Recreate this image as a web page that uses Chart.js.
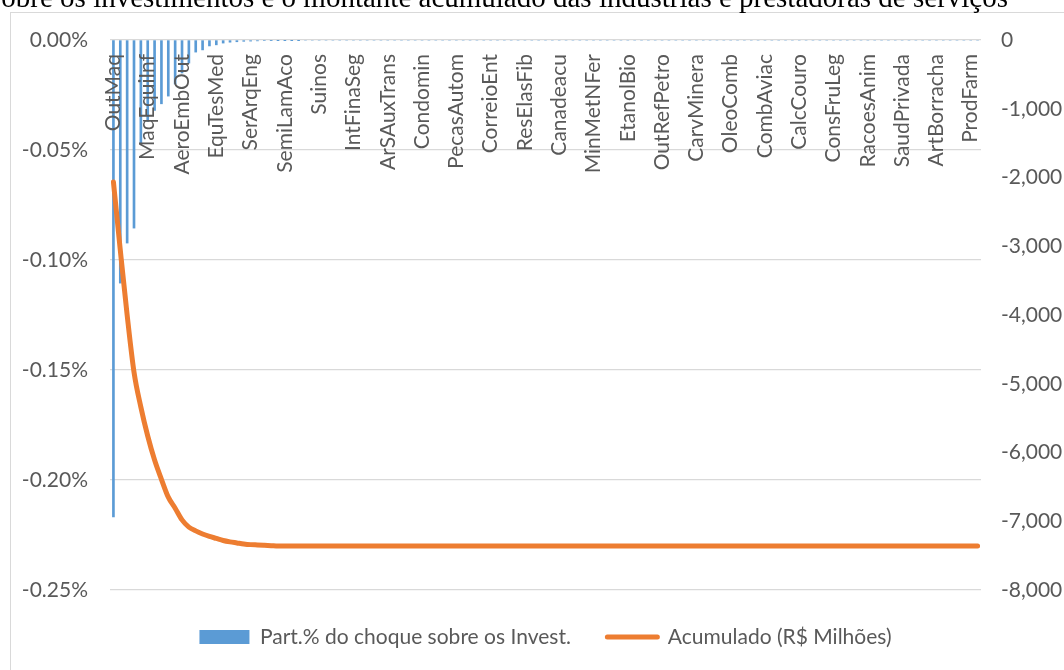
<!DOCTYPE html>
<html><head><meta charset="utf-8">
<script src="https://cdn.jsdelivr.net/npm/chart.js@4.4.0/dist/chart.umd.min.js"></script>
<style>html,body{margin:0;padding:0;background:#fff;overflow:hidden}canvas{display:block}</style>
</head><body>
<canvas id="c" width="1064" height="670" style="width:1064px;height:670px"></canvas>
<script>
const titleText = "obre os investimentos e o montante acumulado das indústrias e prestadoras de serviços";
const seriesNames = ["Part.% do choque sobre os Invest.", "Acumulado (R$ Milhões)"];
const shownLabels = ["OutMaq","MaqEquiInf","AeroEmbOut","EquTesMed","SerArqEng","SemiLamAco","Suinos","IntFinaSeg","ArSAuxTrans","Condomin","PecasAutom","CorreioEnt","ResElasFib","Canadeacu","MinMetNFer","EtanolBio","OutRefPetro","CarvMinera","OleoComb","CombAviac","CalcCouro","ConsFruLeg","RacoesAnim","SaudPrivada","ArtBorracha","ProdFarm"];
const categoryCount = 127;
const labelEvery = 5;
const categories = [];
for (let i = 0; i < categoryCount; i++) categories.push(i % labelEvery === 0 ? shownLabels[i / labelEvery] : "");

const barValues = [
 -0.2168,-0.1105,-0.0923,-0.0855,-0.0468,-0.0370,-0.0320,-0.0290,-0.0255,-0.0200,
 -0.0150,-0.0105,-0.0055,-0.0045,-0.0027,-0.0022,-0.0014,-0.0010,-0.0008,-0.0006,
 -0.0005,-0.0004,-0.0003,-0.0002,-0.0001,-0.0001,-0.0001,-0.0001,0,0,
 0,0,0,0,0,0,0,0,0,0,
 0,0,0,0,0,0,0,0,0,0,
 0,0,0,0,0,0,0,0,0,0,
 0,0,0,0,0,0,0,0,0,0,
 0,0,0,0,0,0,0,0,0,0,
 0,0,0,0,0,0,0,0,0,0,
 0,0,0,0,0,0,0,0,0,0,
 0,0,0,0,0,0,0,0,0,0,
 0,0,0,0,0,0,0,0,0,0,
 0,0,0,0,0,0,0
];
const cumValues = [
 -2065,-3055,-4000,-4830,-5340,-5760,-6110,-6390,-6650,-6810,
 -6980,-7085,-7140,-7185,-7220,-7250,-7280,-7300,-7315,-7330,
 -7340,-7345,-7350,-7355,-7360,-7360,-7360,-7360,-7360,-7360,
 -7360,-7360,-7360,-7360,-7360,-7360,-7360,-7360,-7360,-7360,
 -7360,-7360,-7360,-7360,-7360,-7360,-7360,-7360,-7360,-7360,
 -7360,-7360,-7360,-7360,-7360,-7360,-7360,-7360,-7360,-7360,
 -7360,-7360,-7360,-7360,-7360,-7360,-7360,-7360,-7360,-7360,
 -7360,-7360,-7360,-7360,-7360,-7360,-7360,-7360,-7360,-7360,
 -7360,-7360,-7360,-7360,-7360,-7360,-7360,-7360,-7360,-7360,
 -7360,-7360,-7360,-7360,-7360,-7360,-7360,-7360,-7360,-7360,
 -7360,-7360,-7360,-7360,-7360,-7360,-7360,-7360,-7360,-7360,
 -7360,-7360,-7360,-7360,-7360,-7360,-7360,-7360,-7360,-7360,
 -7360,-7360,-7360,-7360,-7360,-7360,-7360
];
const leftAxis = {min: -0.25, max: 0, step: 0.05};
const rightAxis = {min: -8000, max: 0, step: 1000};

const BLUE = '#5B9BD5', ORANGE = '#ED7D31', GRAY = '#595959';
const FONT = 'Lato';

const framePlugin = {
  id: 'frame',
  beforeDraw(chart) {
    const ctx = chart.ctx;
    ctx.save();
    ctx.strokeStyle = '#d9d9d9'; ctx.lineWidth = 1;
    ctx.strokeRect(10.5, 12.5, 1200, 800);
    ctx.font = '29px "Liberation Serif"';
    ctx.fillStyle = '#000'; ctx.textAlign = 'right'; ctx.textBaseline = 'alphabetic';
    ctx.fillText(titleText, 1008, 7);
    ctx.restore();
  }
};
const xLabelPlugin = {
  id: 'xlabels',
  afterDatasetsDraw(chart) {
    const {ctx, chartArea, scales} = chart;
    const x = scales.x;
    ctx.save();
    ctx.font = '21px ' + FONT; ctx.fillStyle = GRAY;
    ctx.textAlign = 'right'; ctx.textBaseline = 'middle';
    categories.forEach((lab, i) => {
      if (!lab) return;
      ctx.save();
      ctx.translate(x.getPixelForValue(i), chartArea.top + 14);
      ctx.rotate(-Math.PI / 2);
      ctx.fillText(lab, 0, 0);
      ctx.restore();
    });
    ctx.restore();
  }
};

function build() {
  Chart.defaults.font.family = FONT;
  new Chart(document.getElementById('c'), {
    data: {
      labels: categories,
      datasets: [
        {type: 'bar', label: seriesNames[0], data: barValues, backgroundColor: BLUE, barThickness: 2, yAxisID: 'y', order: 1},
        {type: 'line', label: seriesNames[1], data: cumValues, borderColor: ORANGE, backgroundColor: ORANGE, borderWidth: 5,
         pointRadius: 0, cubicInterpolationMode: 'monotone', borderCapStyle: 'round', borderJoinStyle: 'round', yAxisID: 'y1', order: 0}
      ]
    },
    options: {
      responsive: false, animation: false, devicePixelRatio: 1,
      layout: {padding: {top: 40, bottom: 12.5, left: 0, right: 0}},
      scales: {
        x: {type: 'category', display: false, offset: true},
        y: {
          position: 'left', min: leftAxis.min, max: leftAxis.max,
          afterFit(s) { s.width = 110; },
          border: {display: false},
          grid: {color: '#d9d9d9', lineWidth: 1.3, drawTicks: false},
          ticks: {stepSize: leftAxis.step, padding: 22, color: GRAY, font: {size: 21, family: FONT},
                  callback: v => v.toFixed(2) + '%'}
        },
        y1: {
          position: 'right', min: rightAxis.min, max: rightAxis.max,
          afterFit(s) { s.width = 83; },
          border: {display: false},
          grid: {display: false, drawTicks: false},
          ticks: {stepSize: rightAxis.step, padding: 20, color: GRAY, font: {size: 21, family: FONT},
                  callback: v => v.toLocaleString('en-US')}
        }
      },
      plugins: {
        tooltip: {enabled: false},
        legend: {
          position: 'bottom', fullSize: false,
          labels: {
            usePointStyle: true, pointStyleWidth: 50, boxHeight: 14, padding: 36.5,
            color: GRAY, font: {size: 21, family: FONT},
            sort: (a, b) => a.datasetIndex - b.datasetIndex,
            generateLabels(chart) {
              return chart.data.datasets.map((ds, i) => ({
                text: ds.label, datasetIndex: i, hidden: false,
                fillStyle: ds.type === 'line' ? ds.borderColor : ds.backgroundColor,
                strokeStyle: ds.type === 'line' ? ds.borderColor : ds.backgroundColor,
                lineWidth: ds.type === 'line' ? 5 : 0, lineCap: 'round',
                pointStyle: ds.type === 'line' ? 'line' : 'rect', fontColor: GRAY
              }));
            }
          }
        }
      }
    },
    plugins: [framePlugin, xLabelPlugin]
  });
}
const fontsReady = document.fonts ? Promise.all([document.fonts.load('21px Lato'), document.fonts.load('29px "Liberation Serif"')]) : Promise.resolve();
Promise.race([fontsReady, new Promise(r => setTimeout(r, 1500))]).then(build, build);
</script>
</body></html>
